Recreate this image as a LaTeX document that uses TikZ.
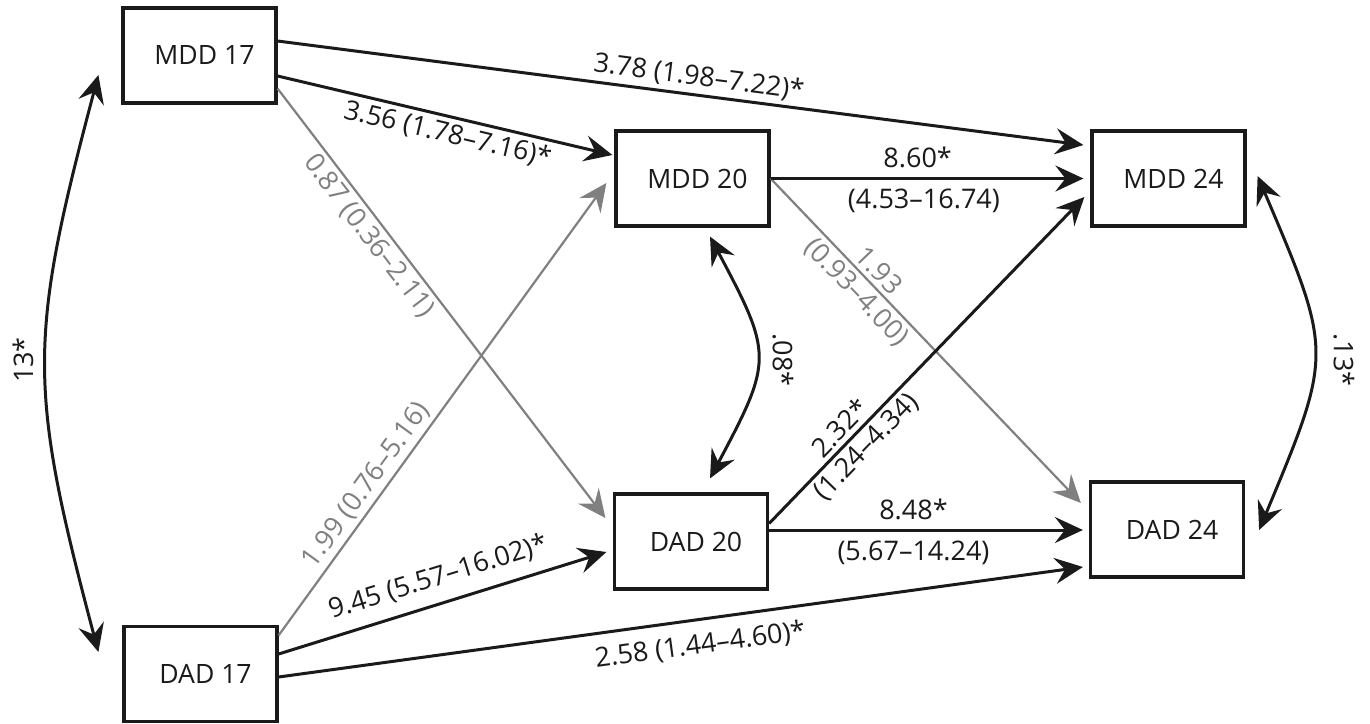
\documentclass[tikz,border=0pt]{standalone}
\usepackage{fontspec}
\setmainfont{Open Sans}
\usetikzlibrary{arrows.meta,calc}
\definecolor{ink}{HTML}{1A1A1A}
\definecolor{lightink}{HTML}{808080}
\begin{document}
\begin{tikzpicture}[x=0.5pt,y=-0.5pt,
  box/.style={draw=ink, line width=1.6pt, fill=white, minimum width=76.5pt, minimum height=47.5pt, inner sep=0pt, font=\fontsize{13.3}{15}\selectfont, text=ink},
  blk/.style={draw=ink, line width=1.5pt, -{Stealth[length=14pt,width=13pt,inset=5pt]}},
  gry/.style={draw=lightink, line width=1.1pt, -{Stealth[length=14pt,width=13pt,inset=5pt]}},
  dbl/.style={draw=ink, line width=1.5pt, {Stealth[length=14pt,width=13pt,inset=5pt]}-{Stealth[length=14pt,width=13pt,inset=5pt]}},
  lab/.style={font=\fontsize{13.5}{16}\selectfont, text=ink, sloped, inner sep=2pt},
  glab/.style={lab, text=lightink},
  hlab/.style={lab, inner sep=4.5pt},
  rlab/.style={font=\fontsize{13.5}{16}\selectfont, text=ink, inner sep=0pt},
]
\useasboundingbox (0,0) rectangle (1370,723);

% boxes
\node[box] (m17) at (199.5,55.5) {\hspace*{5pt}MDD 17};
\node[box] (d17) at (200.5,674) {\hspace*{5pt}DAD 17};
\node[box] (m20) at (692.5,178.5) {\hspace*{5pt}MDD 20};
\node[box] (d20) at (691,541.5) {\hspace*{5pt}DAD 20};
\node[box] (m24) at (1168.5,178.5) {\hspace*{5pt}MDD 24};
\node[box] (d24) at (1167,529.5) {\hspace*{5pt}DAD 24};

% gray paths
\draw[gry] ($(m17.south east)+(0,-16)$) -- node[glab, below, pos=0.32] {0.87 (0.36–2.11)} ($(d20.west)+(-7.5,-23.5)$);
\draw[gry] ($(d17.north east)+(0,10.5)$) -- node[glab, above, pos=0.31] {1.99 (0.76–5.16)} ($(m20.west)+(-8,4.5)$);
\draw[gry] (m20.east) -- node[glab, above, pos=0.315] {1.93} node[glab, below, pos=0.315] {(0.93–4.00)} ($(d24.west)+(-8,-26.5)$);

% black paths
\draw[blk] ($(m17.east)+(0,-14.5)$) -- node[lab, above, pos=0.52] {3.78 (1.98–7.22)*} ($(m24.west)+(-7,-33.5)$);
\draw[blk] ($(m17.east)+(0,20.5)$) -- node[lab, below, pos=0.52] {3.56 (1.78–7.16)*} ($(m20.west)+(-2,-23.5)$);
\draw[blk] ($(d17.east)+(0,-20)$) -- node[lab, above, pos=0.51, inner sep=6pt] {9.45 (5.57–16.02)*} ($(d20.west)+(-6.5,10.5)$);
\draw[blk] ($(d17.east)+(0,3)$) -- node[lab, below, pos=0.52, inner sep=6pt] {2.58 (1.44–4.60)*} ($(d24.west)+(-6,37.5)$);
\draw[blk] (m20.east) -- node[hlab, above, pos=0.47] {8.60*} node[hlab, below, pos=0.49] {(4.53–16.74)} ($(m24.west)+(-7,0)$);
\draw[blk] ($(d20.east)+(0,-11.5)$) -- node[hlab, above, pos=0.46] {8.48*} node[hlab, below, pos=0.46] {(5.67–14.24)} ($(d24.west)+(-6,0.5)$);
\draw[blk] ($(d20.east)+(0,-18)$) -- node[lab, above, pos=0.26] {2.32*} node[lab, below, pos=0.27] {(1.24–4.34)} ($(m24.west)+(-6,18.5)$);

% correlations
\draw[dbl] ($(m17.west)+(-23,19.5)$) .. controls (28,340) and (28,387) .. ($(d17.west)+(-24,-22)$);
\draw[dbl] ($(m20.south)+(17.5,9)$) .. controls (773,355) and (773,360) .. ($(d20.north)+(19,-14)$);
\draw[dbl] ($(m24.east)+(11,-2.5)$) .. controls (1333,353) and (1333,353) .. ($(d24.east)+(14,0.5)$);

\node[rlab, rotate=90] (c1) at (23,360) {13*};
\node[rlab, rotate=-90] (c2) at (783,360) {.08*};
\node[rlab, rotate=-90] (c3) at (1344,360) {.13*};
\end{tikzpicture}
\end{document}
